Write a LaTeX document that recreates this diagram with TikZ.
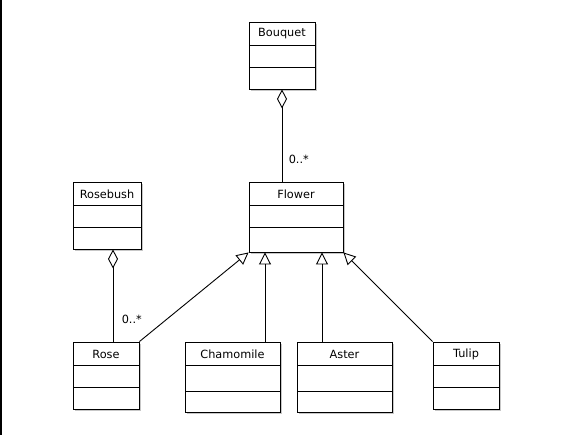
\documentclass[tikz,border=0pt]{standalone}
\usepackage{fontspec}
\setmainfont{DejaVu Sans}
\usepackage{tikz}
\usetikzlibrary{arrows.meta,shadows,calc}

\tikzset{
  umlclass/.style={draw, line width=0.9pt, fill=white, inner sep=0pt,
    drop shadow={shadow xshift=2pt, shadow yshift=-2pt, fill=black!22, opacity=1}},
  classname/.style={font=\fontsize{11.3}{13}\selectfont, inner sep=0pt},
  mult/.style={font=\fontsize{11.3}{13}\selectfont, anchor=west},
  aggr/.style={line width=0.9pt, {Diamond[open, length=19pt, width=10pt, line width=0.9pt]}-},
  gener/.style={line width=0.9pt, -{Triangle[open, length=12pt, width=12pt, line width=0.9pt]}}
}

\begin{document}
\begin{tikzpicture}[x=1pt, y=-1pt]
    \useasboundingbox (0,0) rectangle (561,435);
    % frame edge on the left
    \draw[line width=1.5pt] (1,0) -- (1,435);

    % classes: name/text/left/top/right/divider 1/divider 2/bottom
    \foreach \nm/\txt/\l/\t/\r/\da/\db/\b in {
        bouquet/Bouquet/249/22/315/45/67/89,
        flower/Flower/249/182/343/205/227/252,
        rosebush/Rosebush/73/182/141/205/227/249,
        rose/Rose/73/342/139/365/387/409,
        chamomile/Chamomile/185/342/280/365/391/412,
        aster/Aster/297/342/392/365/391/412,
        tulip/Tulip/433/342/499/365/387/409}
    {
        \node[umlclass, minimum width={(\r-\l)*1pt}, minimum height={(\b-\t)*1pt}]
            (\nm) at ({(\l+\r)/2},{(\t+\b)/2}) {};
        \node[classname] (\nm-title) at ({(\l+\r)/2},{(\t+\da)/2+0.5}) {\txt};
        \draw[line width=0.9pt] (\l,\da) -- (\r,\da);
        \draw[line width=0.9pt] (\l,\db) -- (\r,\db);
    }

    % aggregations
    \draw[aggr] (bouquet.south) -- (bouquet.south |- flower.north)
        node[mult, pos=0.76, xshift=3pt] {0..*};
    \draw[aggr] ([xshift=6pt]rosebush.south) -- ([xshift=6pt]rosebush.south |- rose.north)
        node[mult, pos=0.76, xshift=5pt] {0..*};

    % generalizations
    \draw[gener] (rose.north east) -- (flower.south west);
    \draw[gener] ([xshift=32.5pt]chamomile.north) -- ([xshift=32.5pt]chamomile.north |- flower.south);
    \draw[gener] ([xshift=-22.5pt]aster.north) -- ([xshift=-22.5pt]aster.north |- flower.south);
    \draw[gener] (tulip.north west) -- (flower.south east);
\end{tikzpicture}
\end{document}
